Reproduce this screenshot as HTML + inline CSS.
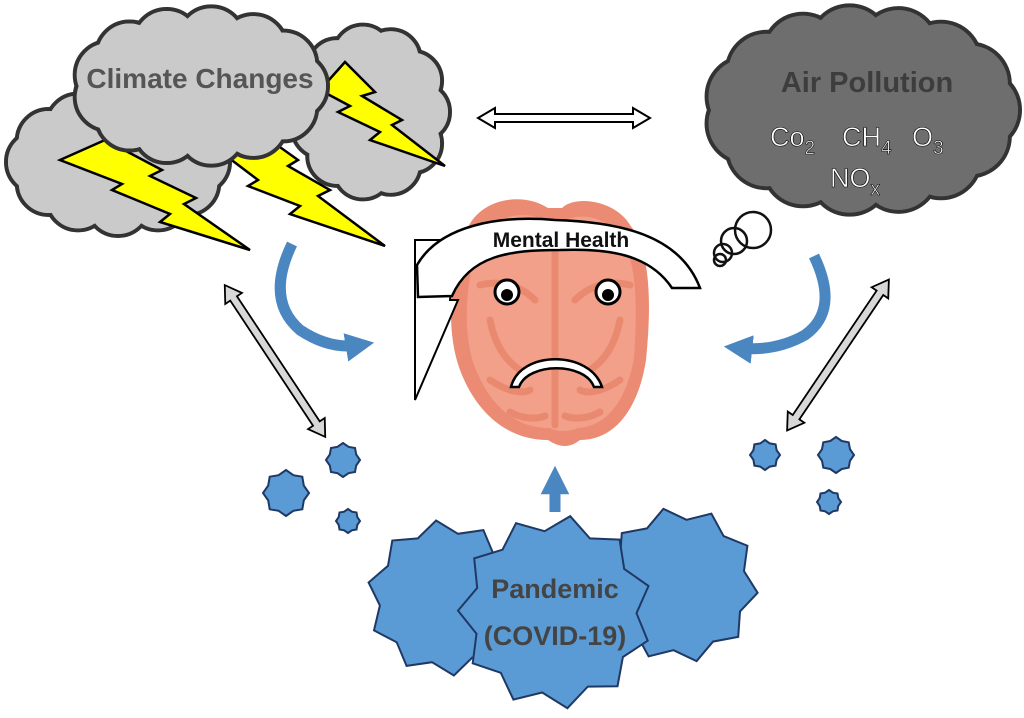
<!DOCTYPE html>
<html><head><meta charset="utf-8"><style>
html,body{margin:0;padding:0;background:#fff;width:1024px;height:718px;overflow:hidden}
svg{display:block}
text{font-family:"Liberation Sans",sans-serif;font-weight:bold}
</style></head><body>
<svg id="s" width="1024" height="718" viewBox="0 0 1024 718" xmlns="http://www.w3.org/2000/svg">
<defs>
<marker id="bh" viewBox="0 0 10 10" refX="5" refY="5" markerWidth="2.6" markerHeight="2.6" orient="auto"><path d="M0,0L10,5L0,10z" fill="#4a86c0"/></marker>
</defs>
<g id="clouds"></g>
<g id="bolts" fill="#ffff00" stroke="#000" stroke-width="2.5" stroke-linejoin="miter">
<polygon points="60,160 105,140 162,170 150,176 196,198 184,204 250,250 160,222 170,214 112,190 122,184"/>
<polygon points="225,155 270,140 298,160 288,166 330,190 318,196 385,246 290,214 300,206 248,186 258,180"/>
<polygon points="320,90 345,62 375,92 362,96 402,120 392,125 445,166 370,140 380,132 338,112 350,106"/>
</g>
<g id="cover"></g>
<text x="200" y="88" font-size="28" fill="#555" text-anchor="middle">Climate Changes</text>
<text x="867" y="92" font-size="29" fill="#3d3d3d" text-anchor="middle">Air Pollution</text>
<g font-size="27" fill="#fff" stroke="#000" stroke-width="0.6">
<text x="770" y="146" style="font-weight:normal">Co<tspan font-size="19" dy="8">2</tspan></text>
<text x="842" y="146" style="font-weight:normal">CH<tspan font-size="19" dy="8">4</tspan></text>
<text x="912" y="146" style="font-weight:normal">O<tspan font-size="19" dy="8">3</tspan></text>
<text x="830" y="187" style="font-weight:normal">NO<tspan font-size="19" dy="8">x</tspan></text>
</g>
<!-- horizontal double arrow -->
<polygon points="478,118 495,108 495,114 633,114 633,108 650,118 633,128 633,122 495,122 495,128" fill="#fff" stroke="#000" stroke-width="2"/>
<!-- diagonal arrows -->
<g fill="#d8d8d8" stroke="#000" stroke-width="1.8">
<polygon points="0,-4 150,-4 150,-10 166,0 150,10 150,4 0,4 0,10 -16,0 0,-10" transform="translate(275,361) rotate(56.5) translate(-75,0)"/>
<polygon points="0,-4 150,-4 150,-10 166,0 150,10 150,4 0,4 0,10 -16,0 0,-10" transform="translate(838,355) rotate(124) translate(-75,0)"/>
</g>
<!-- blue curved arrows -->
<path d="M292,244 Q265,300 300,330 Q330,350 360,345" fill="none" stroke="#4a86c0" stroke-width="11" marker-end="url(#bh)"/>
<path d="M814,256 Q840,310 805,335 Q775,352 738,348" fill="none" stroke="#4a86c0" stroke-width="11" marker-end="url(#bh)"/>
<path d="M555,512 L555,480" stroke="#4a86c0" stroke-width="11" marker-end="url(#bh)"/>
<!-- brain -->
<g>
<path d="M548,208 C520,190 475,200 465,235 C450,270 445,330 460,370 C475,410 505,440 548,440 C560,448 570,448 580,440 C620,440 640,400 646,360 C652,300 650,250 630,225 C615,200 575,195 562,208 Z" fill="#ec8b73"/>
<path d="M548,222 C525,208 488,215 478,245 C466,280 462,330 474,365 C488,402 512,428 550,428 C558,432 568,432 578,428 C612,426 628,392 634,358 C638,300 636,258 620,238 C606,215 578,212 562,222 Z" fill="#f2a08a"/>
<g fill="none" stroke="#e98a70" stroke-width="7" stroke-linecap="round">
<path d="M555,230 L555,425"/>
<path d="M480,285 C500,280 520,285 535,300"/><path d="M630,285 C610,280 590,285 575,300"/>
<path d="M490,320 C495,345 505,360 520,370"/><path d="M620,320 C615,345 605,360 590,370"/>
<path d="M490,380 C505,390 520,395 530,390"/><path d="M620,380 C605,390 590,395 580,390"/>
<path d="M510,412 C520,418 535,420 545,416"/><path d="M600,412 C590,418 575,420 565,416"/>
</g>
</g>
<!-- headband -->
<polygon points="415,240 455,240 450,300 458,300 415,400" fill="#fff" stroke="#000" stroke-width="2"/>
<path d="M417,265 C440,225 500,215 555,220 C620,222 680,235 700,288 L672,288 C650,255 610,248 560,250 C510,250 470,255 452,296 L418,297 Z" fill="#fff" stroke="#000" stroke-width="2.5"/>
<text x="561" y="247" font-size="21" fill="#111" text-anchor="middle">Mental Health</text>
<!-- eyes -->
<circle cx="507" cy="292" r="12" fill="#fff" stroke="#000" stroke-width="3"/><circle cx="507" cy="295" r="6" fill="#000"/>
<circle cx="608" cy="292" r="12" fill="#fff" stroke="#000" stroke-width="3"/><circle cx="608" cy="295" r="6" fill="#000"/>
<path d="M511,387 C520,350 590,350 602,387 L594,387 C585,362 528,362 519,387 Z" fill="#fff" stroke="#000" stroke-width="2.5"/>
<g id="stars"></g>
<text x="555" y="598" font-size="27" fill="#444" text-anchor="middle">Pandemic</text>
<text x="555" y="645" font-size="27" fill="#444" text-anchor="middle">(COVID-19)</text>
</svg>
<script>
var NS="http://www.w3.org/2000/svg";
function el(p,t,a){var e=document.createElementNS(NS,t);for(var k in a)e.setAttribute(k,a[k]);p.appendChild(e);return e;}
function cloud(g,circles,fill){
 var s=el(g,"g",{});
 circles.forEach(function(c){el(s,"circle",{cx:c[0],cy:c[1],r:c[2],fill:fill,stroke:"#333","stroke-width":4});});
 circles.forEach(function(c){el(s,"circle",{cx:c[0],cy:c[1],r:c[2]-2,fill:fill});});
}
var C=document.getElementById("clouds"),V=document.getElementById("cover");
function blob(cx,cy,rx,ry,n,r){var a=[];for(var i=0;i<n;i++){var t=i/n*2*Math.PI;a.push([cx+(rx-r)*Math.cos(t),cy+(ry-r)*Math.sin(t),r]);}
 var m=Math.min(rx,ry)-r*0.6;a.push([cx,cy,m]);
 if(rx>ry){a.push([cx-(rx-ry)*0.6,cy,m],[cx+(rx-ry)*0.6,cy,m]);}else{a.push([cx,cy-(ry-rx)*0.6,m],[cx,cy+(ry-rx)*0.6,m]);}
 return a;}
cloud(C,blob(118,162,112,74,12,32),"#cacaca");
cloud(C,blob(370,112,80,88,11,30),"#cacaca");
cloud(V,blob(200,86,128,80,13,34),"#cacaca");
cloud(C,blob(862,110,158,105,15,40),"#6e6e6e");
[[753,230,18],[734,241,13],[723,253,9],[720,260,6]].forEach(function(c){el(C,"circle",{cx:c[0],cy:c[1],r:c[2],fill:"none",stroke:"#111","stroke-width":2.5});});
var S=document.getElementById("stars");
function star(cx,cy,r,n,rot){var p=[];for(var i=0;i<2*n;i++){var t=i/(2*n)*2*Math.PI+(rot||0);var rr=i%2?r*0.84:r;p.push((cx+rr*Math.cos(t)).toFixed(1)+","+(cy+rr*Math.sin(t)).toFixed(1));}
 el(S,"polygon",{points:p.join(" "),fill:"#5b9bd5",stroke:"#1f3864","stroke-width":2});}
star(445,598,78,10,0.2);star(680,585,78,10,0.1);star(555,612,97,11,0.3);
star(343,460,17,8);star(286,493,23,8);star(348,521,12,8);
star(765,455,15,8);star(836,455,18,8);star(829,502,12,8);
</script>
</body></html>
